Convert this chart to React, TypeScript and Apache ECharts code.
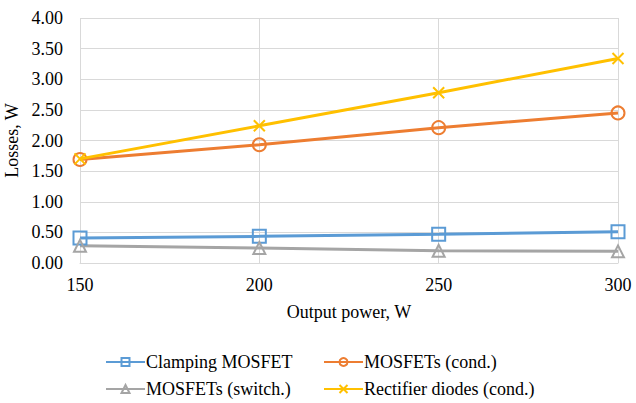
import React, { useEffect, useRef } from "react";
import * as echarts from "echarts";

const xValues = [150, 200, 250, 300];
const clamping = [0.41, 0.435, 0.47, 0.51];
const mosCond = [1.69, 1.93, 2.21, 2.45];
const mosSwitch = [0.28, 0.245, 0.2, 0.19];
const rectifier = [1.7, 2.24, 2.78, 3.34];
const seriesNames = ["Clamping MOSFET", "MOSFETs (cond.)", "MOSFETs (switch.)", "Rectifier diodes (cond.)"];
const colors = ["#5b9bd5", "#ed7d31", "#a5a5a5", "#ffc000"];
const symbols = ["rect", "circle", "triangle", "path://M0,0L10,10M10,0L0,10"];
const dataSets = [clamping, mosCond, mosSwitch, rectifier];

const FONT = "Liberation Serif";
const FS = 18;

export default function App() {
  const ref = useRef<HTMLDivElement>(null);
  useEffect(() => {
    document.body.style.margin = "0";
    const chart = echarts.init(ref.current!, null, { renderer: "svg" });
    const legendPos = [
      { left: 105, top: 353 },
      { left: 323, top: 353 },
      { left: 105, top: 380 },
      { left: 323, top: 380 },
    ];
    chart.setOption({
      animation: false,
      backgroundColor: "#fff",
      textStyle: { fontFamily: FONT },
      grid: { left: 80, right: 18, top: 18, bottom: 140, containLabel: false, outerBoundsMode: "none" },
      xAxis: {
        type: "value",
        min: 150,
        max: 300,
        interval: 50,
        name: "Output power, W",
        nameLocation: "middle",
        nameGap: 40,
        nameTextStyle: { fontFamily: FONT, fontSize: FS, color: "#000" },
        axisLine: { show: true, lineStyle: { color: "#d9d9d9" } },
        axisTick: { show: false },
        axisLabel: { fontFamily: FONT, fontSize: FS, color: "#000", margin: 13 },
        splitLine: { show: true, lineStyle: { color: "#d9d9d9" } },
      },
      yAxis: {
        type: "value",
        min: 0,
        max: 4,
        interval: 0.5,
        name: "Losses, W",
        nameLocation: "middle",
        nameGap: 59,
        nameTextStyle: { fontFamily: FONT, fontSize: FS, color: "#000" },
        axisLine: { show: false },
        axisTick: { show: false },
        axisLabel: { fontFamily: FONT, fontSize: FS, color: "#000", margin: 17, formatter: (v: number) => v.toFixed(2) },
        splitLine: { show: true, lineStyle: { color: "#d9d9d9" } },
      },
      legend: seriesNames.map((n, i) => ({
        data: [n],
        left: legendPos[i].left,
        top: legendPos[i].top,
        itemWidth: 39,
        itemHeight: 10,
        itemGap: 4,
        textStyle: { fontFamily: FONT, fontSize: FS, color: "#000", padding: [0, 0, 0, -4] },
        padding: 0,
      })),
      series: seriesNames.map((n, i) => ({
        name: n,
        type: "line",
        data: xValues.map((x, j) => [x, dataSets[i][j]]),
        symbol: symbols[i],
        symbolSize: i === 3 ? 11 : i === 2 ? 12 : 13,
        lineStyle: { color: colors[i], width: 3 },
        itemStyle: { color: i === 3 ? colors[i] : "none", borderColor: colors[i], borderWidth: 2 },
        z: i === 3 ? 4 : i === 1 ? 3 : 2,
      })),
    });
    return () => chart.dispose();
  }, []);
  return <div ref={ref} style={{ width: 636, height: 403 }} />;
}
